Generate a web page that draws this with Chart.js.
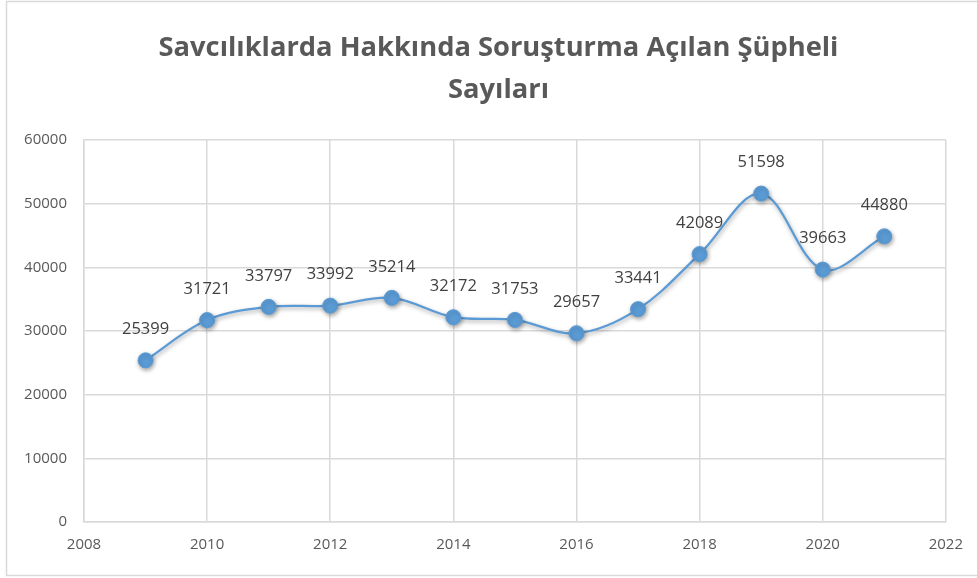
<!DOCTYPE html>
<html><head><meta charset="utf-8">
<script src="https://cdn.jsdelivr.net/npm/chart.js@4"></script>
<style>html,body{margin:0;padding:0;background:#fff;}#wrap{width:977px;height:578px;position:relative;}</style>
</head><body><div id="wrap"><canvas id="c" width="977" height="578"></canvas></div>
<script>
const titleLines = ["Savcılıklarda Hakkında Soruşturma Açılan Şüpheli", "Sayıları"];
const years = [2009, 2010, 2011, 2012, 2013, 2014, 2015, 2016, 2017, 2018, 2019, 2020, 2021];
const values = [25399, 31721, 33797, 33992, 35214, 32172, 31753, 29657, 33441, 42089, 51598, 39663, 44880];
const xTicks = [2008, 2010, 2012, 2014, 2016, 2018, 2020, 2022];
const yTicks = [0, 10000, 20000, 30000, 40000, 50000, 60000];

const FONT = "'Open Sans', 'Liberation Sans', sans-serif";
const labelPlugin = {
  id: 'valueLabels',
  afterDatasetsDraw(chart) {
    const ctx = chart.ctx;
    const meta = chart.getDatasetMeta(0);
    ctx.save();
    ctx.shadowColor = 'transparent';
    ctx.font = '16.5px ' + FONT;
    ctx.fillStyle = '#404040';
    ctx.textAlign = 'center';
    ctx.textBaseline = 'middle';
    meta.data.forEach((pt, i) => {
      ctx.fillText(String(values[i]), pt.x, pt.y - 31);
    });
    ctx.restore();
  }
};
const framePlugin = {
  id: 'frame',
  afterLayout(chart) {
    if (chart.titleBlock) {
      chart.titleBlock.left = 20;
      chart.titleBlock.right = chart.width;
    }
  },
  beforeDraw(chart) {
    const ctx = chart.ctx;
    ctx.save();
    ctx.fillStyle = '#fff';
    ctx.fillRect(0, 0, chart.width, chart.height);
    ctx.strokeStyle = '#d9d9d9';
    ctx.lineWidth = 1.5;
    ctx.strokeRect(6.5, 1.5, chart.width + 10, chart.height - 4);
    ctx.restore();
  }
};
const shadowPlugin = {
  id: 'shadow',
  beforeDatasetsDraw(chart) {
    const ctx = chart.ctx;
    ctx.save();
    ctx.shadowColor = 'rgba(0,0,0,0.35)';
    ctx.shadowBlur = 4;
    ctx.shadowOffsetX = 1;
    ctx.shadowOffsetY = 2;
  },
  afterDatasetsDraw(chart) { chart.ctx.restore(); }
};

new Chart(document.getElementById('c'), {
  type: 'line',
  data: {
    datasets: [{
      data: years.map((y, i) => ({x: y, y: values[i]})),
      borderColor: '#5b9bd5',
      backgroundColor: '#5b9bd5',
      borderWidth: 2.25,
      pointRadius: 7.5,
      pointHoverRadius: 7.5,
      pointBackgroundColor: '#5b9bd5',
      pointBorderColor: '#5b9bd5',
      pointBorderWidth: 1,
      tension: 0.35,
      fill: false
    }]
  },
  options: {
    responsive: false,
    animation: false,
    events: [],
    layout: { padding: { left: 0, right: 30, top: 0, bottom: 0 } },
    plugins: {
      legend: { display: false },
      tooltip: { enabled: false },
      title: {
        display: true,
        text: titleLines,
        color: '#595959',
        font: { family: FONT, size: 27.3, weight: 'bold', lineHeight: 1.54 },
        padding: { top: 27, bottom: 29 }
      }
    },
    scales: {
      x: {
        type: 'linear',
        min: 2008, max: 2022,
        afterBuildTicks: s => { s.ticks = xTicks.map(v => ({value: v})); },
        afterFit: s => { s.height = 56; },
        ticks: { color: '#595959', font: { family: FONT, size: 15 }, padding: 14, callback: v => String(v), maxRotation: 0, autoSkip: false },
        grid: { color: '#d9d9d9', lineWidth: 1.5, drawTicks: false },
        border: { color: '#d9d9d9', width: 1.5 }
      },
      y: {
        min: 0, max: 60000,
        afterBuildTicks: s => { s.ticks = yTicks.map(v => ({value: v})); },
        afterFit: s => { s.width = 84; },
        ticks: { color: '#595959', font: { family: FONT, size: 15 }, padding: 17, callback: v => String(v) },
        grid: { color: '#d9d9d9', lineWidth: 1.5, drawTicks: false },
        border: { color: '#d9d9d9', width: 1.5 }
      }
    }
  },
  plugins: [framePlugin, shadowPlugin, labelPlugin]
});
</script></body></html>
